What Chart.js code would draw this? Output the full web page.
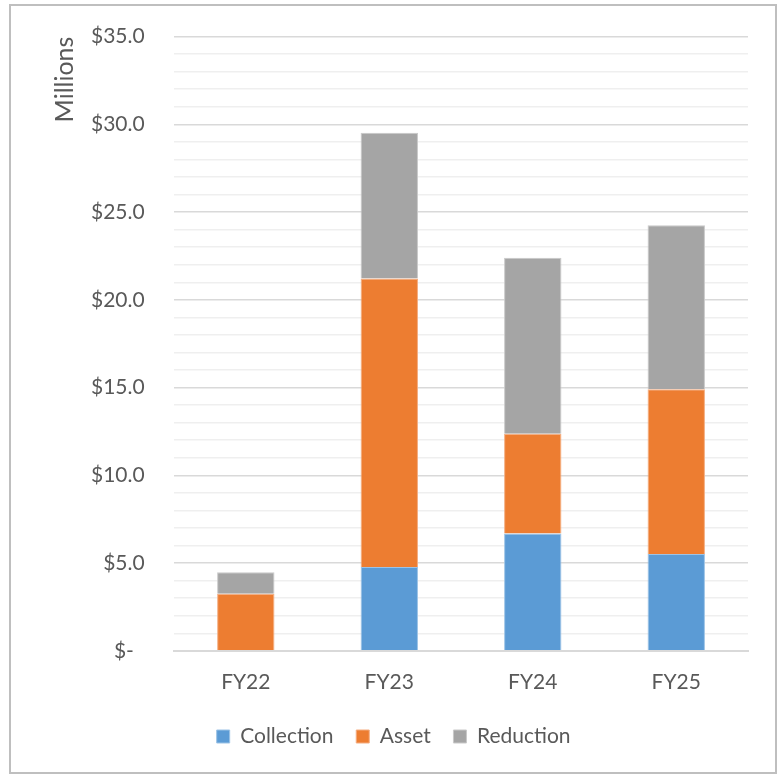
<!DOCTYPE html>
<html lang="en">
<head>
    <meta charset="UTF-8">
    <title>Collection / Asset / Reduction by Fiscal Year</title>
    <script src="https://cdn.jsdelivr.net/npm/chart.js"></script>
    <style>
        html, body {
            margin: 0;
            padding: 0;
            background: #ffffff;
        }
        #wrap {
            width: 781px;
            height: 775px;
        }
    </style>
</head>
<body>
    <div id="wrap"><canvas id="fyChart" width="781" height="775"></canvas></div>

    <script>
        // Values in millions of dollars
        const years = ['FY22', 'FY23', 'FY24', 'FY25'];
        const collection = [0.05, 4.77, 6.68, 5.51];
        const asset = [3.20, 16.45, 5.69, 9.40];
        const reduction = [1.22, 8.30, 10.03, 9.34];

        const fontFamily = 'Lato, "Open Sans", sans-serif';
        const textColor = '#595959';

        // thin grey frame around the whole chart
        const frame = {
            id: 'frame',
            afterDraw(chart) {
                const c = chart.ctx;
                c.save();
                c.strokeStyle = '#bfbfbf';
                c.lineWidth = 2;
                c.strokeRect(10, 5, 766, 768);
                c.restore();
            }
        };

        const ctx = document.getElementById('fyChart').getContext('2d');

        new Chart(ctx, {
            type: 'bar',
            data: {
                labels: years,
                datasets: [
                    {
                        label: 'Collection',
                        data: collection,
                        backgroundColor: '#5b9bd5',
                        borderColor: '#9cc3e6',
                        borderWidth: 1
                    },
                    {
                        label: 'Asset',
                        data: asset,
                        backgroundColor: '#ed7d31',
                        borderColor: '#f4ad80',
                        borderWidth: 1
                    },
                    {
                        label: 'Reduction',
                        data: reduction,
                        backgroundColor: '#a5a5a5',
                        borderColor: '#c9c9c9',
                        borderWidth: 1
                    }
                ]
            },
            options: {
                responsive: false,
                animation: false,
                layout: {
                    padding: { top: 16, right: 33, bottom: 18, left: 50 }
                },
                datasets: {
                    bar: {
                        barPercentage: 0.4,
                        categoryPercentage: 1
                    }
                },
                plugins: {
                    tooltip: { enabled: false },
                    legend: {
                        position: 'bottom',
                        labels: {
                            boxWidth: 13,
                            boxHeight: 13,
                            padding: 12,
                            color: textColor,
                            font: { family: fontFamily, size: 21 },
                            // a little extra room after each label
                            generateLabels: (chart) =>
                                Chart.defaults.plugins.legend.labels.generateLabels(chart)
                                    .map((item) => Object.assign(item, { text: item.text + '  ' }))
                        }
                    }
                },
                scales: {
                    x: {
                        stacked: true,
                        grid: { display: false, drawTicks: false },
                        border: { color: '#d9d9d9', width: 2 },
                        ticks: {
                            color: textColor,
                            padding: 19,
                            font: { family: fontFamily, size: 21 }
                        }
                    },
                    y: {
                        stacked: true,
                        min: 0,
                        max: 35,
                        title: {
                            display: true,
                            text: 'Millions',
                            align: 'end',
                            color: textColor,
                            padding: { top: 0, bottom: -13 },
                            font: { family: fontFamily, size: 25 }
                        },
                        border: { display: false },
                        grid: {
                            drawTicks: false,
                            lineWidth: 1.5,
                            color: (c) => (c.tick && c.tick.value % 5 === 0) ? '#d9d9d9' : '#efefef'
                        },
                        ticks: {
                            stepSize: 1,
                            autoSkip: false,
                            padding: 24,
                            color: textColor,
                            font: { family: fontFamily, size: 21 },
                            callback: (v) => {
                                if (v % 5 !== 0) return '';
                                return v === 0 ? '$-   ' : '$' + v.toFixed(1) + ' ';
                            }
                        }
                    }
                }
            },
            plugins: [frame]
        });
    </script>
</body>
</html>
